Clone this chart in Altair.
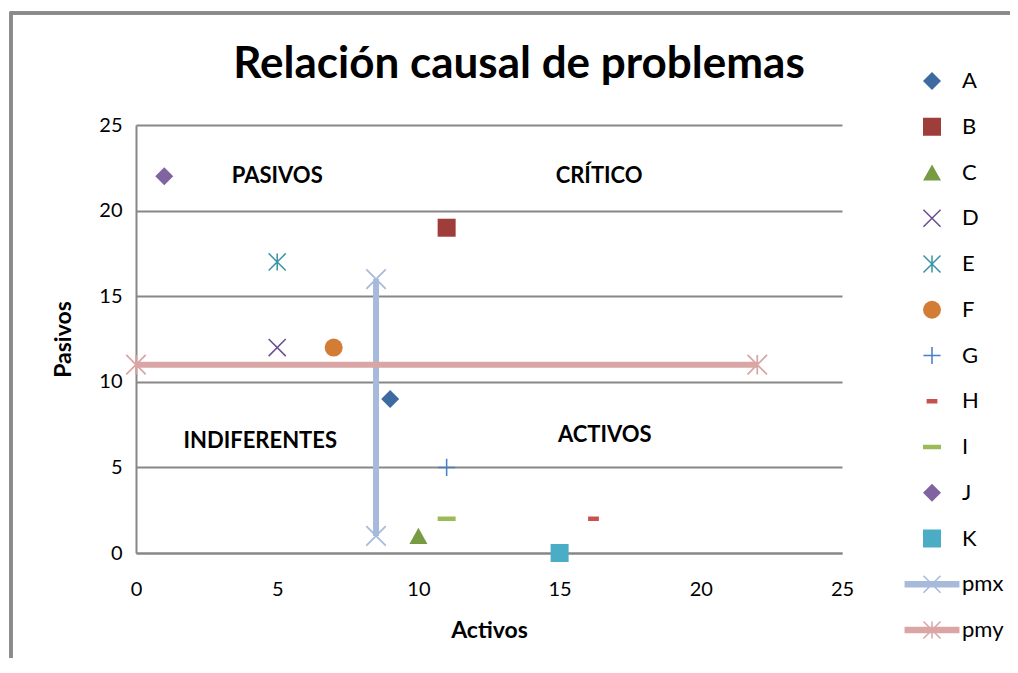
import altair as alt
import pandas as pd

# ---- data -----------------------------------------------------------------
series = ["A", "B", "C", "D", "E", "F", "G", "H", "I", "J", "K", "pmx", "pmy"]
activos = [9, 11, 10, 5, 5, 7, 11, 16.2, 11, 1, 15]
pasivos = [9, 19, 1, 12, 17, 12, 5, 2, 2, 22, 0]

pmx_x = [8.5, 8.5]
pmx_y = [1, 16]
pmy_x = [0, 22]
pmy_y = [11, 11]

region_text = ["PASIVOS", "CRÍTICO", "INDIFERENTES", "ACTIVOS"]
region_x = [5.0, 16.4, 4.4, 16.6]
region_y = [22, 22, 6.55, 6.9]

ticks = [0, 5, 10, 15, 20, 25]
title_text = "Relación causal de problemas"

colors = ["#3D6AA0", "#9E3D3A", "#789A43", "#6B4E8E", "#3B95A8", "#D27C35",
          "#4A7EC5", "#C8504D", "#9BBB59", "#8064A2", "#4BACC6", "#A7BADB", "#D9A6A5"]

# ---- marker shapes (filled paths) ----------------------------------------
a, w = 0.95, 0.085
d = w / 2 ** 0.5
X_PATH = (f"M{-a+d},{-a-d}L{a+d},{a-d}L{a-d},{a+d}L{-a-d},{-a+d}Z"
          f"M{-a-d},{a-d}L{a-d},{-a-d}L{a+d},{-a+d}L{-a+d},{a+d}Z")
V_PATH = f"M{-w},{-a}L{w},{-a}L{w},{a}L{-w},{a}Z"
H_PATH = f"M{-a},{-w}L{a},{-w}L{a},{w}L{-a},{w}Z"
DIAMOND = "M0,-1L1,0L0,1L-1,0Z"
SQUARE = "M-1,-1L1,-1L1,1L-1,1Z"
TRIANGLE = "M0,-0.9L1,0.9L-1,0.9Z"
DASH_S = "M-0.6,-0.25L0.6,-0.25L0.6,0.25L-0.6,0.25Z"
DASH_L = "M-1,-0.25L1,-0.25L1,0.25L-1,0.25Z"
BAR = "M-3.05,-0.36L3.05,-0.36L3.05,0.36L-3.05,0.36Z"
shapes = [DIAMOND, SQUARE, TRIANGLE, X_PATH, X_PATH + V_PATH, "circle",
          V_PATH + H_PATH, DASH_S, DASH_L, DIAMOND, SQUARE,
          BAR + X_PATH, BAR + X_PATH + V_PATH]

col = dict(zip(series, colors))

pts = pd.DataFrame({"serie": series[:11], "Activos": activos, "Pasivos": pasivos})
pmx_df = pd.DataFrame({"Activos": pmx_x, "Pasivos": pmx_y})
pmy_df = pd.DataFrame({"Activos": pmy_x, "Pasivos": pmy_y})
regions = pd.DataFrame({"t": region_text, "Activos": region_x, "Pasivos": region_y})

xs = alt.Scale(domain=[0, 25], nice=False)
ys = alt.Scale(domain=[0, 25], nice=False)
cscale = alt.Scale(domain=series, range=colors)

X = alt.X("Activos:Q", scale=xs, axis=alt.Axis(
    values=ticks, grid=False, ticks=False, domainColor="#878787", domainWidth=2,
    labelFontSize=20, labelColor="#000", labelPadding=26, labelFlush=False,
    title="Activos", titleFontSize=23, titleFontWeight="bold", titleColor="#000",
    titlePadding=20))
Y = alt.Y("Pasivos:Q", scale=ys, axis=alt.Axis(
    values=ticks, grid=True, gridColor="#878787", gridWidth=2, ticks=False,
    domainColor="#878787", domainWidth=2, labelFontSize=20, labelColor="#000",
    labelPadding=14, labelFlush=False, title="Pasivos", titleFontSize=23,
    titleFontWeight="bold", titleColor="#000", titlePadding=23))

frame = alt.Chart(pts).mark_rect(fillOpacity=0, stroke="#8a8a8a", strokeWidth=2.5).encode(
    x=alt.value(-125), x2=alt.value(1000), y=alt.value(-112), y2=alt.value(700))

title_layer = alt.Chart(pd.DataFrame({"t": [title_text]})).mark_text(
    fontSize=44, fontWeight="bold", color="#000", align="center",
    baseline="alphabetic").encode(x=alt.value(383), y=alt.value(-47), text="t:N")

pmx_line = alt.Chart(pmx_df).mark_line(strokeWidth=6, color=col["pmx"]).encode(x=X, y=Y)
pmy_line = alt.Chart(pmy_df).mark_line(strokeWidth=6, color=col["pmy"]).encode(x=X, y=Y)

pmx_end = alt.Chart(pmx_df).mark_point(
    shape=X_PATH, filled=True, size=420, opacity=1, color=col["pmx"]).encode(
    x="Activos:Q", y="Pasivos:Q")
pmy_end = alt.Chart(pmy_df).mark_point(
    shape=X_PATH + V_PATH, filled=True, size=420, opacity=1, color=col["pmy"]).encode(
    x="Activos:Q", y="Pasivos:Q")

legend = alt.Legend(title=None, orient="none", legendX=785, legendY=-55,
                    labelFontSize=22, labelColor="#000", labelOffset=19,
                    rowPadding=23.75, padding=0, symbolStrokeWidth=0,
                    symbolSize=324, symbolOpacity=1)
point_layer = alt.Chart(pts).mark_point(filled=True, size=324, opacity=1).encode(
    x="Activos:Q", y="Pasivos:Q",
    color=alt.Color("serie:N", scale=cscale, legend=legend),
    shape=alt.Shape("serie:N", scale=alt.Scale(domain=series, range=shapes), legend=legend))

text_layer = alt.Chart(regions).mark_text(
    fontSize=22, fontWeight="bold", color="#000", align="center", baseline="middle").encode(
    x="Activos:Q", y="Pasivos:Q", text="t:N")

chart = alt.layer(frame, title_layer, pmx_line, pmy_line, pmx_end, pmy_end,
                  point_layer, text_layer).properties(
    width=706, height=428,
    padding={"left": 128, "top": 117, "right": 168, "bottom": 105},
    autosize=alt.AutoSizeParams(type="none"),
    background="#ffffff",
).configure(font="Lato").configure_view(stroke=None)

chart.save("out.html", embed_options={"renderer": "svg", "actions": False})
